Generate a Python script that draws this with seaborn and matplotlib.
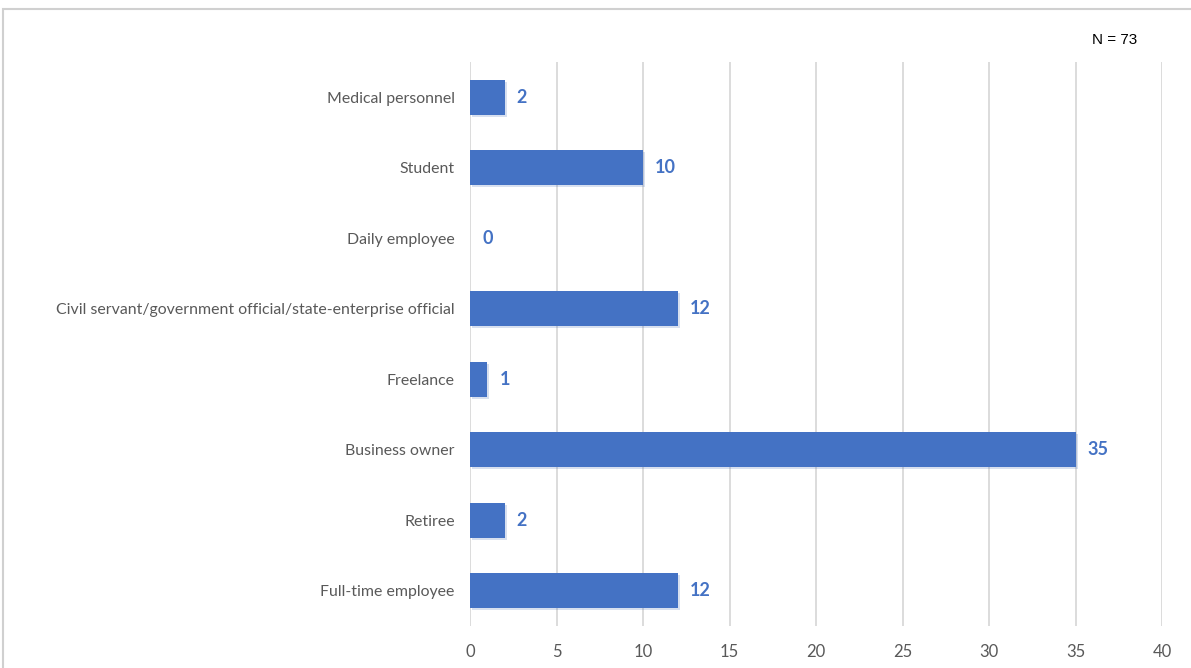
import matplotlib
matplotlib.use("Agg")
import matplotlib.pyplot as plt
import matplotlib.patheffects as pe
from matplotlib.patches import Rectangle
import seaborn as sns
import pandas as pd

categories = [
    "Medical personnel",
    "Student",
    "Daily employee",
    "Civil servant/government official/state-enterprise official",
    "Freelance",
    "Business owner",
    "Retiree",
    "Full-time employee",
]
counts = [2, 10, 0, 12, 1, 35, 2, 12]
x_ticks = [0, 5, 10, 15, 20, 25, 30, 35, 40]
note = "N = 73"

BLUE = "#4472C4"
GRID = "#D9D9D9"
TEXT = "#595959"

sns.set_theme(style="white")
plt.rcParams["font.family"] = ["Lato", "DejaVu Sans"]

df = pd.DataFrame({"category": categories, "count": counts})

fig = plt.figure(figsize=(11.91, 6.68), dpi=100)
ax = fig.add_axes([470 / 1191, 1 - 626 / 668, (1162 - 470) / 1191, (626 - 62) / 668])

sns.barplot(data=df, x="count", y="category", order=categories, color=BLUE,
            saturation=1, width=0.5, ax=ax, zorder=3, linewidth=0, edgecolor="none")

# soft drop shadow under each bar
for bar in ax.patches:
    bar.set_path_effects([pe.SimplePatchShadow(offset=(1.5, -1.5), alpha=0.2, rho=0.9),
                          pe.Normal()])

ax.set_xlim(0, 40)
ax.set_xticks(x_ticks)
ax.set_xticklabels([str(t) for t in x_ticks], fontsize=12, color=TEXT)
ax.tick_params(axis="x", length=0, pad=13)
ax.tick_params(axis="y", length=0, pad=11, labelsize=11.4, labelcolor=TEXT)
ax.grid(axis="x", color=GRID, linewidth=1.3, zorder=0)
ax.grid(axis="y", visible=False)
for s in ax.spines.values():
    s.set_visible(False)
ax.set_xlabel("")
ax.set_ylabel("")

# value labels next to each bar
for i, v in enumerate(counts):
    ax.text(v + 0.7, i, str(v), va="center", ha="left", fontsize=13,
            fontweight="bold", color=BLUE)

fig.text(1115 / 1191, 1 - 40 / 668, note, ha="center", va="center",
         fontsize=11, color="black", family=["Liberation Sans", "DejaVu Sans"])

# light chart-area border
fig.patches.append(Rectangle((3 / 1191, -0.1), 1.2, 1 - 9 / 668 + 0.1,
                             transform=fig.transFigure, fill=False,
                             edgecolor="#D0D0D0", linewidth=1.5))

fig.savefig("out.png", dpi=100)
